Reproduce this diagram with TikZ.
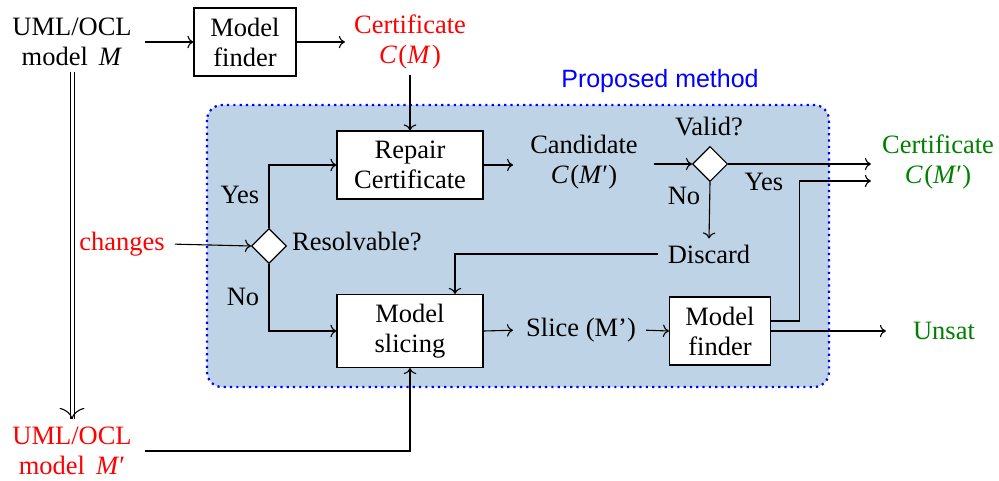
\documentclass[tikz,border=0pt]{standalone}
\usepackage{fontspec}
\setmainfont{Liberation Serif}
\setsansfont{Liberation Sans}
\usetikzlibrary{shapes.geometric,arrows.meta}
\definecolor{panelfill}{RGB}{190,211,229}
\definecolor{okgreen}{RGB}{0,128,0}
% italic variable followed by a small gap, as in math setting
\newcommand{\mvar}[1]{\textit{#1}\kern1.5pt}
\begin{document}
\begin{tikzpicture}[x=1pt,y=-1pt,
  every node/.style={font=\fontsize{26.5}{30}\selectfont, inner sep=4pt},
  txt/.style={align=center},
  procbox/.style={draw, fill=white, line width=1.1pt, align=center, inner sep=0pt},
  decide/.style={draw, fill=white, diamond, line width=1.1pt, minimum width=35pt, minimum height=35pt, inner sep=0pt},
  arr/.style={-{To[length=6pt,width=12.5pt]}, line width=1.1pt}]
\useasboundingbox (0,0) rectangle (999,481);

% panel of the proposed method
\draw[blue, fill=panelfill, line width=2.2pt, dash pattern=on 2.2pt off 4.1pt, rounded corners=15pt]
  (207,105) rectangle (829,387);
\node[blue, font=\sffamily\fontsize{25}{30}\selectfont] (title) at (660,81) {Proposed method};

% nodes
\node[txt] (m) at (72,42) {UML/OCL\\model \,\textit{M}};
\node[procbox, minimum width=102pt, minimum height=68pt] (f1) at (245,42) {Model\\finder};
\node[txt, red] (cert) at (410,42) {Certificate\\\mvar{C}(\mvar{M})};
\node[procbox, minimum width=146pt, minimum height=68pt] (repair) at (410,165) {Repair\\Certificate};
\node[txt, red] (chg) at (122,244) {changes};
\node[decide] (d1) at (269,246) {};
\node[txt, anchor=west, inner sep=0pt] (resolv) at (292,241) {Resolvable?};
\node[txt] (cand) at (584,162) {Candidate\\\mvar{C}(\textit{M}′)};
\node[decide] (d2) at (710,164) {};
\node[txt] (valid) at (709,127) {Valid?};
\node[txt, okgreen] (cert2) at (938,162) {Certificate\\\mvar{C}(\textit{M}′)};
\node[txt] (disc) at (709,254) {Discard};
\node[procbox, minimum width=146pt, minimum height=73pt] (slice) at (410,331) {Model\\slicing};
\node[txt] (slt) at (581,330) {Slice (M’)};
\node[procbox, minimum width=101pt, minimum height=68pt] (f2) at (720,331) {Model\\finder};
\node[txt, okgreen] (unsat) at (944,331) {Unsat};
\node[txt, red] (mp) at (72,451) {UML/OCL\\model \,\textit{M}′};

% branch labels
\node (yes1) at (240,195) {Yes};
\node (no1) at (243,297) {No};
\node (no2) at (684,196) {No};
\node (yes2) at (764,182) {Yes};

% connectors
\draw[arr, shorten <=9pt] (m.east) -- (f1.west);
\draw[arr, shorten >=5pt] (f1.east) -- (cert.west);
\draw[arr, shorten <=2pt] (cert.south) -- (repair.north);
\draw[arr, shorten <=6pt] (chg.east) -- (d1.west);
\draw[arr] (d1.north) |- (repair.west);
\draw[arr] (d1.south) |- (slice.west);
\draw[arr, shorten >=13pt] (repair.east) -- (cand.west |- repair.east);
\draw[arr, shorten <=12pt] (cand.east |- d2.west) -- (d2.west);
\draw[arr, shorten >=7pt] (d2.east) -- (d2.east -| cert2.west);
\draw[arr, shorten >=2pt] (d2.south) -- (disc.north);
\draw[arr, shorten <=6pt] (disc.west) -| ([xshift=45pt]slice.north);
\draw[arr, shorten >=9pt] (slice.east) -- (slt.west);
\draw[arr, shorten <=6pt] (slt.east) -- (f2.west);
\draw[arr, shorten >=7pt] ([yshift=10pt]f2.east) -- ++(28,0) |- ([yshift=-19pt]cert2.west);
\draw[arr, shorten >=23pt] (f2.east) -- (unsat.west);
% refinement arrow: double shaft with a thin open head
\coordinate (reftip) at ([yshift=4pt]mp.north);
\draw[double, double distance=3pt, line width=1pt, shorten <=2pt] (m.south) -- (reftip);
\draw[line width=1.1pt, -{To[length=11pt,width=25pt]}] ([yshift=0.2pt]reftip) -- (reftip);
\draw[arr, shorten <=9pt] (mp.east) -| (slice.south);
\end{tikzpicture}
\end{document}
